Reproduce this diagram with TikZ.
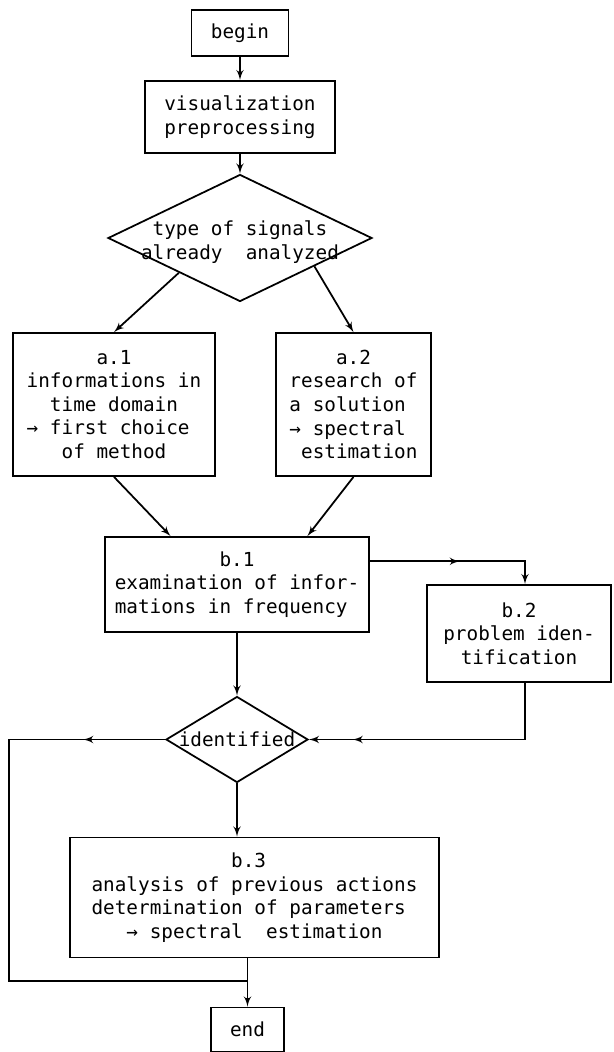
\documentclass[tikz,border=0pt]{standalone}
\usepackage{fontspec}
\newfontfamily\flowfont{DejaVu Sans Mono}
\usetikzlibrary{arrows,calc,decorations.markings,positioning,shapes.geometric}
\tikzset{%
	block/.style        = {draw, rectangle, line width=1pt, inner sep=0pt, align=left, font=\flowfont\fontsize{11}{13.4}\selectfont},
	terminal/.style     = {block, align=center, minimum width=1.94cm, minimum height=0.92cm},
	decision/.style     = {draw, diamond, line width=1pt, inner sep=0pt},
	decisiontext/.style = {align=center, font=\flowfont\fontsize{11}{13.4}\selectfont},
	link/.style         = {line width=1pt},
	midarrow/.style     = {postaction={decorate}, decoration={markings, mark=at position #1 with {\arrow{latex'}}}},
}

\begin{document}
\begin{tikzpicture}[node distance=2.0cm,auto,>=latex']
	\useasboundingbox (0,0) rectangle (12.28,-21.04);
	\node [terminal] (start) at (4.8,-0.66) {begin};
	\node [block,align=center,minimum width=3.8cm,minimum height=1.44cm] (vis) [below of=start,node distance=1.68cm] {visualization\\preprocessing};
	\node [decision,minimum width=5.28cm,minimum height=2.54cm,label={[decisiontext,yshift=-0.08cm]center:type of signals\\already\ \ analyzed}] (type) [below of=vis,node distance=2.42cm] {};
	\node [block,minimum width=4.04cm,minimum height=2.86cm] (a1) [below of=type,node distance=3.33cm,xshift=-2.52cm] {\ \ \ \ \ \ a.1\\informations in\\\ \ time domain\\→ first choice\\\ \ \ of method};
	\node [block,minimum width=3.1cm,minimum height=2.86cm] (a2) [below of=type,node distance=3.33cm,xshift=2.27cm] {\ \ \ \ a.2\\research of\\a solution\\→ spectral\\\ estimation};
	\node [block,minimum width=5.28cm,minimum height=1.9cm] (b1) [below of=type,node distance=6.93cm,xshift=-0.06cm] {\ \ \ \ \ \ \ \ \ b.1\\examination of infor-\\mations in frequency};
	\node [block,align=center,minimum width=3.68cm,minimum height=1.94cm] (b2) [right of=b1,node distance=5.64cm,yshift=-0.98cm] {b.2\\problem iden-\\tification};
	\node [decision,minimum width=2.84cm,minimum height=1.72cm,label={[decisiontext]center:identified}] (id) [below of=b1,node distance=3.1cm] {};
	\node [block,minimum width=7.38cm,minimum height=2.4cm] (b3) [below of=id,node distance=3.16cm,xshift=0.35cm] {\ \ \ \ \ \ \ \ \ \ \ \ b.3\\analysis of previous actions\\determination of parameters\\\ \ \ → spectral\ \ estimation};
	\node [terminal,minimum width=1.46cm,minimum height=0.88cm] (finish) [below of=b3,node distance=2.64cm,xshift=-0.14cm] {end};
	\coordinate (merge) at ($(finish.north)+(0,0.52)$);

	\draw[->,link] (start) -- (vis);
	\draw[->,link] (vis) -- (type);
	\draw[->,link] ($(type.west)!0.54!(type.south)$) -- (a1.north);
	\draw[->,link] ($(type.east)!0.44!(type.south)$) -- (a2.north);
	\draw[->,link] (a1.south) -- ($(b1.north west)!0.25!(b1.north east)$);
	\draw[->,link] (a2.south) -- ($(b1.north west)!0.765!(b1.north east)$);
	\draw[->,link] (b1) -- (id);
	\draw[->,link,midarrow=1.8cm] ($(b1.north east)!0.26!(b1.south east)$) -| ($(b2.north)+(0.12,0)$);
	\draw[->,link,midarrow=4.58cm] ($(b2.south)+(0.12,0)$) |- (id.east);
	\draw[->,link] (id.south) -- (id.south |- b3.north);
	\draw[link,midarrow=1.64cm] (id.west) -- ++(-3.12,0) |- (merge);
	\draw[->,link] (b3.south -| finish) -- (finish);
\end{tikzpicture}
\end{document}
